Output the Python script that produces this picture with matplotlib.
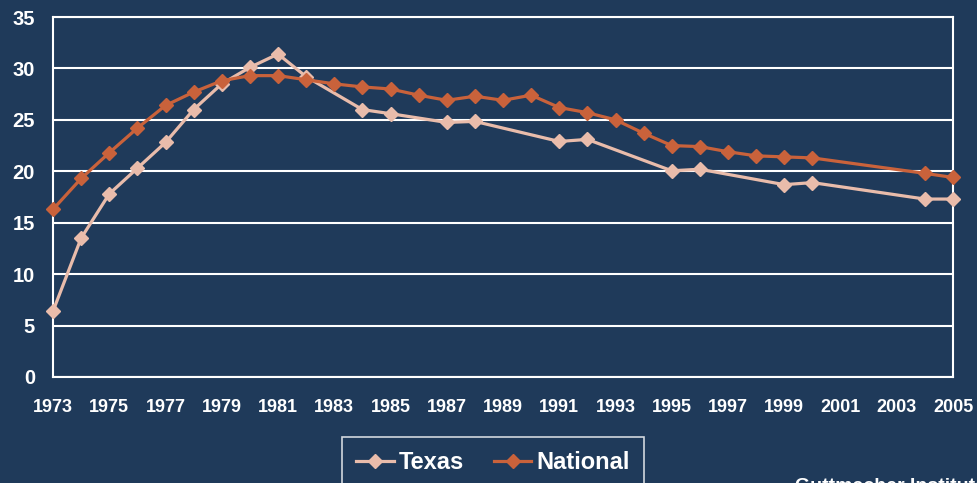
import numpy as np
import matplotlib.pyplot as plt

plt.rcParams['font.family'] = ['Liberation Sans', 'DejaVu Sans']
plt.rcParams['font.weight'] = 'bold'

texas_years = [1973, 1974, 1975, 1976, 1977, 1978, 1979, 1980, 1981, 1982,
               1984, 1985, 1987, 1988, 1991, 1992, 1995, 1996, 1999, 2000,
               2004, 2005]
texas_rate = [6.4, 13.5, 17.8, 20.3, 22.8, 26.0, 28.5, 30.1, 31.4, 29.2,
              26.0, 25.6, 24.75, 24.85, 22.9, 23.1, 20.05, 20.2, 18.7, 18.9,
              17.3, 17.3]

nat_years = [1973, 1974, 1975, 1976, 1977, 1978, 1979, 1980, 1981, 1982,
             1983, 1984, 1985, 1986, 1987, 1988, 1989, 1990, 1991, 1992,
             1993, 1994, 1995, 1996, 1997, 1998, 1999, 2000, 2004, 2005]
nat_rate = [16.3, 19.3, 21.8, 24.2, 26.4, 27.7, 28.8, 29.3, 29.3, 28.9,
            28.5, 28.2, 28.0, 27.4, 26.9, 27.3, 26.9, 27.4, 26.2, 25.7,
            25.0, 23.7, 22.5, 22.4, 21.9, 21.5, 21.4, 21.3, 19.8, 19.4]

xticks = list(range(1973, 2006, 2))
yticks = list(range(0, 36, 5))

bg = '#1f3a5a'
c_tx = '#e9bcab'
c_nat = '#c9623b'

fig = plt.figure(figsize=(9.77, 4.83), dpi=100, facecolor=bg)
ax = fig.add_axes([53 / 977, 1 - 377 / 483, 900 / 977, 360 / 483], facecolor=bg)

ax.plot(texas_years, texas_rate, color=c_tx, lw=2.3, marker='D', ms=7,
        label='Texas', clip_on=False, zorder=3)
ax.plot(nat_years, nat_rate, color=c_nat, lw=2.3, marker='D', ms=7,
        label='National', clip_on=False, zorder=4)

ax.set_xlim(1973, 2005)
ax.set_ylim(0, 35)
ax.set_xticks(xticks)
ax.set_yticks(yticks)
ax.tick_params(colors='white', length=0)
ax.tick_params(axis='x', labelsize=13, pad=16)
ax.tick_params(axis='y', labelsize=14.5, pad=13)
for lab in ax.get_xticklabels() + ax.get_yticklabels():
    lab.set_fontweight('bold')
ax.grid(axis='y', color='white', lw=1.5)
for s in ax.spines.values():
    s.set_color('white')
    s.set_linewidth(1.5)

leg = fig.legend(loc='upper center', bbox_to_anchor=(493 / 977, 1 - 437 / 483),
                 ncol=2, frameon=True, facecolor=bg, edgecolor='white',
                 fancybox=False, prop={'size': 17, 'weight': 'bold'},
                 handlelength=1.6, handletextpad=0.2, columnspacing=1.25,
                 borderpad=0.6, borderaxespad=0)
leg.get_frame().set_linewidth(1.2)
for t in leg.get_texts():
    t.set_color('white')

fig.text(795 / 977, 1 - 491 / 483, 'Guttmacher Institute', color='white',
         fontsize=14, fontweight='bold', ha='left', va='baseline')

fig.savefig('out.png', dpi=100, facecolor=bg)
